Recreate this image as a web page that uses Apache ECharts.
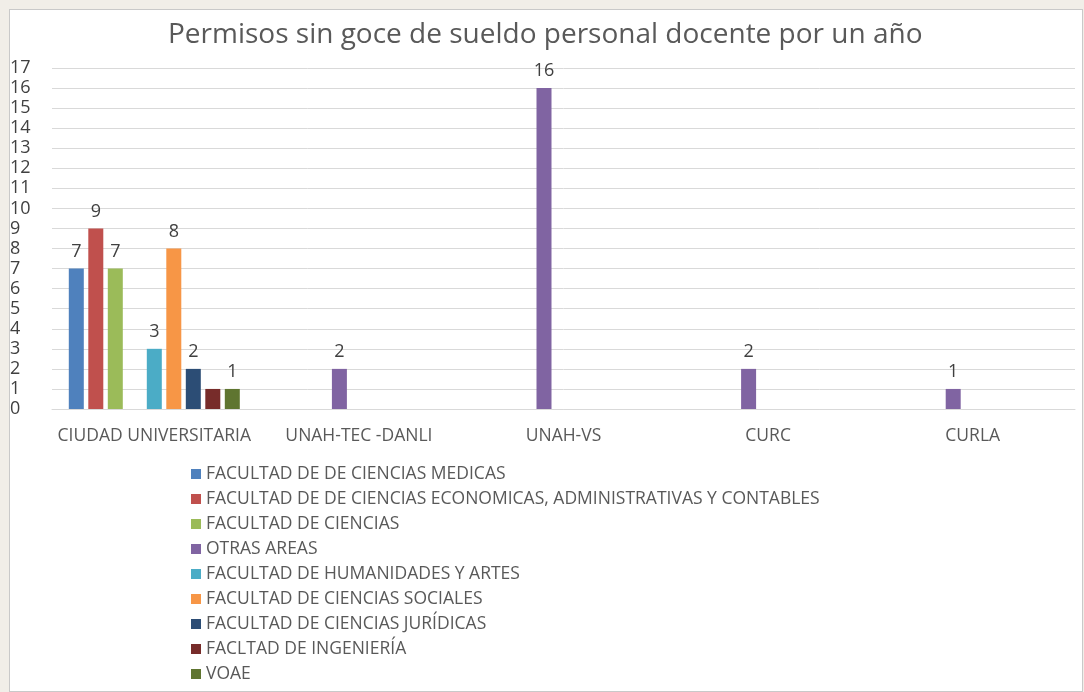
<!DOCTYPE html>
<html>
<head>
<meta charset="utf-8">
<script src="https://cdn.jsdelivr.net/npm/echarts@6/dist/echarts.min.js"></script>
<style>
  html, body { margin: 0; padding: 0; background: #f1eee8; }
  #main { position: absolute; left: 9px; top: 9px; width: 1074px; height: 683px;
          background: #fff; border: 1px solid #c9c9c9; box-sizing: border-box; }
</style>
</head>
<body>
<div id="main"></div>
<script>
var categories = ['CIUDAD UNIVERSITARIA', 'UNAH-TEC -DANLI', 'UNAH-VS', 'CURC', 'CURLA']
var seriesNames = [
  'FACULTAD DE DE CIENCIAS MEDICAS',
  'FACULTAD DE DE CIENCIAS ECONOMICAS, ADMINISTRATIVAS Y CONTABLES',
  'FACULTAD DE CIENCIAS',
  'OTRAS AREAS',
  'FACULTAD DE HUMANIDADES Y ARTES',
  'FACULTAD DE CIENCIAS SOCIALES',
  'FACULTAD DE CIENCIAS JURÍDICAS',
  'FACLTAD DE INGENIERÍA',
  'VOAE'
]
var medicas = [7, null, null, null, null]
var economicas = [9, null, null, null, null]
var ciencias = [7, null, null, null, null]
var otras = [null, 2, 16, 2, 1]
var humanidades = [3, null, null, null, null]
var sociales = [8, null, null, null, null]
var juridicas = [2, null, null, null, null]
var ingenieria = [1, null, null, null, null]
var voae = [1, null, null, null, null]
var seriesData = [medicas, economicas, ciencias, otras, humanidades, sociales, juridicas, ingenieria, voae]
var colors = ['#4f81bd', '#c0504d', '#9bbb59', '#8064a2', '#4bacc6', '#f79646', '#2c4d75', '#772c2a', '#5f7530']
var showLabel = [true, true, true, true, true, true, true, false, true]

var font = '"Open Sans", "Liberation Sans", sans-serif'
var myChart = echarts.init(document.getElementById('main'))
myChart.setOption({
  color: colors,
  animation: false,
  textStyle: { fontFamily: font },
  title: {
    text: 'Permisos sin goce de sueldo personal docente por un año',
    left: 153,
    top: 6,
    textStyle: { fontSize: 28, fontWeight: 'normal', color: '#595959', fontFamily: font }
  },
  grid: { left: 42, right: 7, top: 58, bottom: 282, containLabel: false, outerBoundsMode: 'none' },
  legend: {
    orient: 'vertical',
    left: 176,
    top: 450,
    itemWidth: 10,
    itemHeight: 10,
    itemGap: 7,
    icon: 'rect',
    textStyle: { fontSize: 17.5, color: '#595959', lineHeight: 18, fontFamily: font },
    data: seriesNames
  },
  xAxis: {
    type: 'category',
    data: categories,
    axisLine: { lineStyle: { color: '#d9d9d9' } },
    axisTick: { show: false },
    axisLabel: { interval: 0, fontSize: 17.5, color: '#595959', margin: 18, fontFamily: font }
  },
  yAxis: {
    type: 'value',
    min: 0,
    max: 17,
    interval: 1,
    axisLine: { show: false },
    axisTick: { show: false },
    splitLine: { lineStyle: { color: '#d9d9d9' } },
    axisLabel: { fontSize: 18, color: '#404040', align: 'left', margin: 42, fontFamily: font }
  },
  series: seriesNames.map(function (name, i) {
    return {
      name: name,
      type: 'bar',
      data: seriesData[i],
      barWidth: 15,
      barGap: '30%',
      label: {
        show: showLabel[i],
        position: 'top',
        distance: 8,
        fontSize: 18,
        color: '#404040',
        fontFamily: font
      }
    }
  })
})
</script>
</body>
</html>
